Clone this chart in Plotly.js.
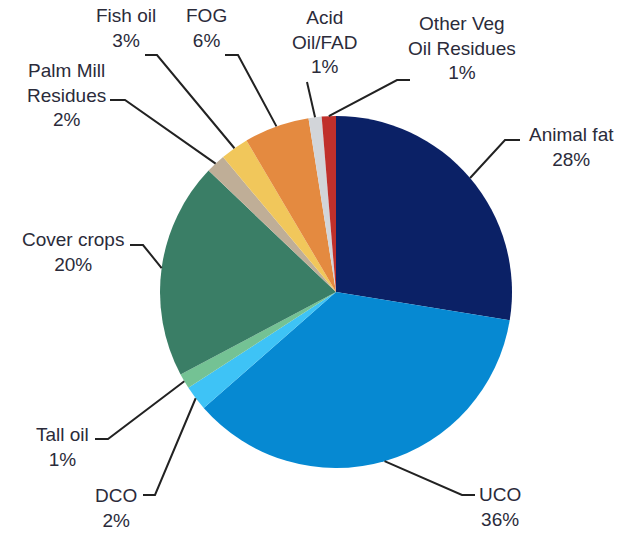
<!DOCTYPE html>
<html>
<head>
<meta charset="utf-8">
<script src="https://cdn.plot.ly/plotly-3.0.1.min.js"></script>
<style>html,body{margin:0;padding:0;background:#fff;}#chart{width:620px;height:533px;}</style>
</head>
<body>
<div id="chart"></div>
<script>
// ---- data ----
const categories = ['Animal fat', 'UCO', 'DCO', 'Tall oil', 'Cover crops', 'Palm Mill Residues', 'Fish oil', 'FOG', 'Acid Oil/FAD', 'Other Veg Oil Residues'];
const labelLines = ['Animal fat', 'UCO', 'DCO', 'Tall oil', 'Cover crops', 'Palm Mill<br>Residues', 'Fish oil', 'FOG', 'Acid<br>Oil/FAD', 'Other Veg<br>Oil Residues'];
const shares = [27.6, 36.0, 2.3, 1.4, 19.9, 1.8, 2.6, 6.0, 1.2, 1.3];
const sliceColors = ['#0b2166', '#0689d2', '#3ec3f6', '#74c294', '#3a7e66', '#bfae97', '#f1c75b', '#e48a40', '#d2d5d9', '#c0302b'];

// ---- layout constants (pixels) ----
const W = 620, H = 533;
const CX = 336, CY = 292, R = 176;
// label block centre, elbow point, elbow end point (all px)
const labelCentre = [[571, 147], [500, 507], [116, 508], [62, 447], [73, 252], [66, 95], [126, 28], [206, 28], [324, 42], [462, 48]];
const elbow = [[505, 140], [462, 495], [155, 495], [108, 439], [143, 245], [125, 100], [157, 55], [238, 55], [307, 82], [397, 80]];
const elbowEnd = [[520, 140], [475, 495], [143, 495], [95, 439], [130, 245], [110, 100], [145, 55], [225, 55], [307, 82], [410, 80]];

const px = x => x / W;
const py = y => 1 - y / H;

const total = shares.reduce((a, b) => a + b, 0);
const shapes = [];
const annotations = [];
let cum = 0;
shares.forEach((v, i) => {
  const theta = 2 * Math.PI * (cum + v / 2) / total;
  cum += v;
  const ex = CX + R * Math.sin(theta);
  const ey = CY - R * Math.cos(theta);
  const [bx, by] = elbow[i];
  const [fx, fy] = elbowEnd[i];
  shapes.push({
    type: 'path', xref: 'paper', yref: 'paper',
    path: `M ${px(ex)},${py(ey)} L ${px(bx)},${py(by)} L ${px(fx)},${py(fy)}`,
    line: {color: '#222222', width: 2}
  });
  const pct = Math.round(v / total * 100) + '%';
  annotations.push({
    xref: 'paper', yref: 'paper', x: px(labelCentre[i][0]), y: py(labelCentre[i][1]),
    xanchor: 'center', yanchor: 'middle', align: 'center', showarrow: false,
    text: labelLines[i] + '<br>' + pct,
    font: {family: 'Liberation Sans, Arial, sans-serif', size: 19, color: '#2b2b3a'}
  });
});

const trace = {
  type: 'pie',
  labels: categories,
  values: shares,
  sort: false,
  direction: 'clockwise',
  rotation: 0,
  textinfo: 'none',
  hoverinfo: 'label+percent',
  marker: {colors: sliceColors, line: {color: '#ffffff', width: 0}},
  domain: {x: [px(CX - R), px(CX + R)], y: [py(CY + R), py(CY - R)]},
  showlegend: false
};

const layout = {
  width: W, height: H,
  margin: {l: 0, r: 0, t: 0, b: 0},
  paper_bgcolor: '#ffffff',
  showlegend: false,
  shapes: shapes,
  annotations: annotations
};

Plotly.newPlot('chart', [trace], layout, {displayModeBar: false, staticPlot: true});
</script>
</body>
</html>
